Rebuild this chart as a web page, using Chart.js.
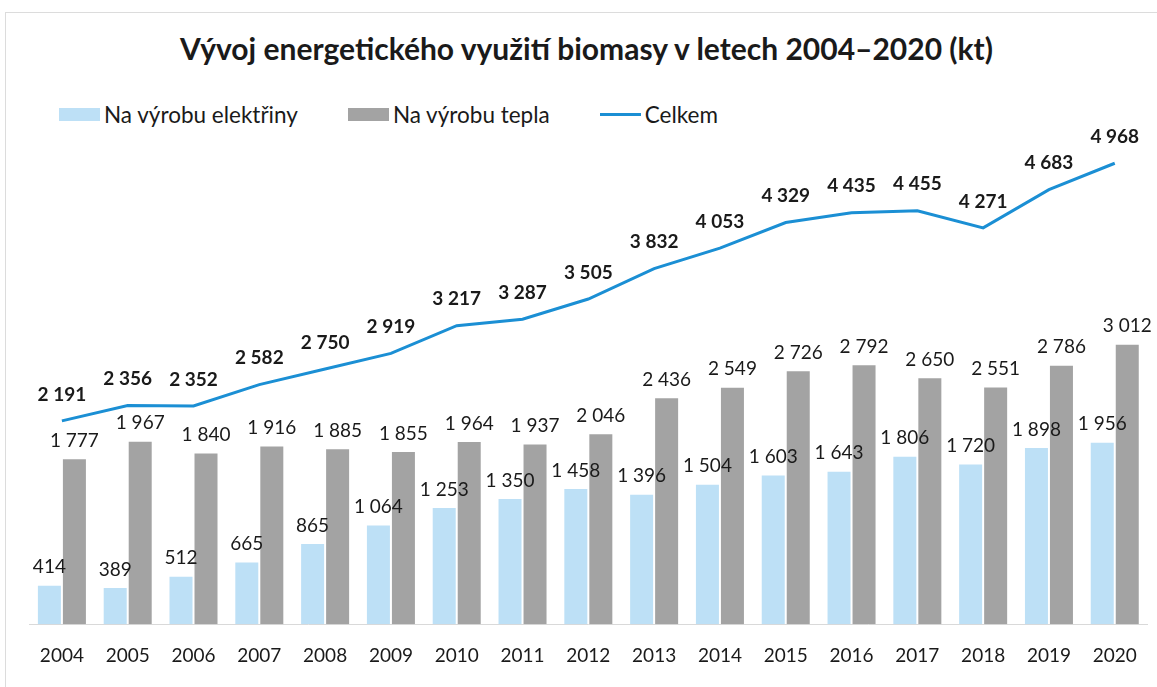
<!DOCTYPE html>
<html>
<head>
<meta charset="utf-8">
<script src="https://cdn.jsdelivr.net/npm/chart.js@4"></script>
<style>
  html, body { margin: 0; padding: 0; background: #fff; overflow: hidden; }
  body { width: 1157px; height: 687px; position: relative; font-family: Lato, sans-serif; color: #000; }
  .frame { position: absolute; left: 5px; top: 12px; width: 1160px; height: 690px; border: 1px solid #dcdcdc; }
  .title { position: absolute; left: 8px; top: 30px; width: 1157px; text-align: center; font-size: 30px; font-weight: bold; color: #1a1a1a; }
  .legend { position: absolute; left: 59px; top: 101px; font-size: 22.5px; color: #1a1a1a; display: flex; align-items: center; }
  .leg-item { display: inline-flex; align-items: center; margin-right: 50px; }
  .leg-box { display: inline-block; width: 41px; height: 13px; margin-right: 4px; }
  .leg-line { display: inline-block; width: 41px; height: 3px; margin-right: 4px; }
  canvas { position: absolute; left: 0; top: 0; }
</style>
</head>
<body>
<div class="frame"></div>
<div class="title">Vývoj energetického využití biomasy v letech 2004–2020 (kt)</div>
<div class="legend" id="leg"></div>
<canvas id="chart" width="1157" height="687"></canvas>
<script>
const LBLUE = '#bde0f6';
const GRAY  = '#a3a3a3';
const LINE  = '#1b8fd4';

const roky = ['2004','2005','2006','2007','2008','2009','2010','2011','2012','2013','2014','2015','2016','2017','2018','2019','2020'];
const elektrina = [414, 389, 512, 665, 865, 1064, 1253, 1350, 1458, 1396, 1504, 1603, 1643, 1806, 1720, 1898, 1956];
const teplo     = [1777, 1967, 1840, 1916, 1885, 1855, 1964, 1937, 2046, 2436, 2549, 2726, 2792, 2650, 2551, 2786, 3012];
const celkem    = [2191, 2356, 2352, 2582, 2750, 2919, 3217, 3287, 3505, 3832, 4053, 4329, 4435, 4455, 4271, 4683, 4968];

const fmt = v => String(v).replace(/\B(?=(\d{3})+(?!\d))/g, ' ');

document.getElementById('leg').innerHTML =
  `<span class="leg-item"><span class="leg-box" style="background:${LBLUE}"></span>Na výrobu elektřiny</span>` +
  `<span class="leg-item"><span class="leg-box" style="background:${GRAY}"></span>Na výrobu tepla</span>` +
  `<span class="leg-item"><span class="leg-line" style="background:${LINE}"></span>Celkem</span>`;

// popisky hodnot nad sloupci a body čáry
const popisky = {
  id: 'popisky',
  afterDatasetsDraw(chart) {
    const ctx = chart.ctx;
    ctx.save();
    ctx.textAlign = 'center';
    ctx.textBaseline = 'bottom';
    ctx.fillStyle = '#1a1a1a';
    chart.data.datasets.forEach((ds, i) => {
      const meta = chart.getDatasetMeta(i);
      const isLine = ds.type === 'line';
      ctx.font = (isLine ? 'bold ' : '') + '19px Lato';
      meta.data.forEach((el, j) => {
        const y = isLine ? el.y - 17 : el.y - 9;
        ctx.fillText(fmt(ds.data[j]), el.x, y);
      });
    });
    ctx.restore();
  }
};

new Chart(document.getElementById('chart'), {
  type: 'bar',
  data: {
    labels: roky,
    datasets: [
      { type: 'line', label: 'Celkem', data: celkem, borderColor: LINE, borderWidth: 3, pointRadius: 0, tension: 0, fill: false, order: 0 },
      { label: 'Na výrobu elektřiny', data: elektrina, backgroundColor: LBLUE, categoryPercentage: 0.76, barPercentage: 0.92, order: 1 },
      { label: 'Na výrobu tepla', data: teplo, backgroundColor: GRAY, categoryPercentage: 0.76, barPercentage: 0.92, order: 1 }
    ]
  },
  options: {
    responsive: false,
    animation: false,
    layout: { padding: { top: 151, left: 29, right: 7, bottom: 0 } },
    plugins: { legend: { display: false }, title: { display: false }, tooltip: { enabled: false } },
    scales: {
      x: {
        grid: { display: false, drawTicks: false },
        border: { display: true, color: '#d9d9d9', width: 1 },
        ticks: { color: '#1a1a1a', font: { family: 'Lato', size: 19 }, padding: 20, maxRotation: 0, autoSkip: false }
      },
      y: { display: false, min: 0, max: 5100 }
    }
  },
  plugins: [popisky]
});
</script>
</body>
</html>
